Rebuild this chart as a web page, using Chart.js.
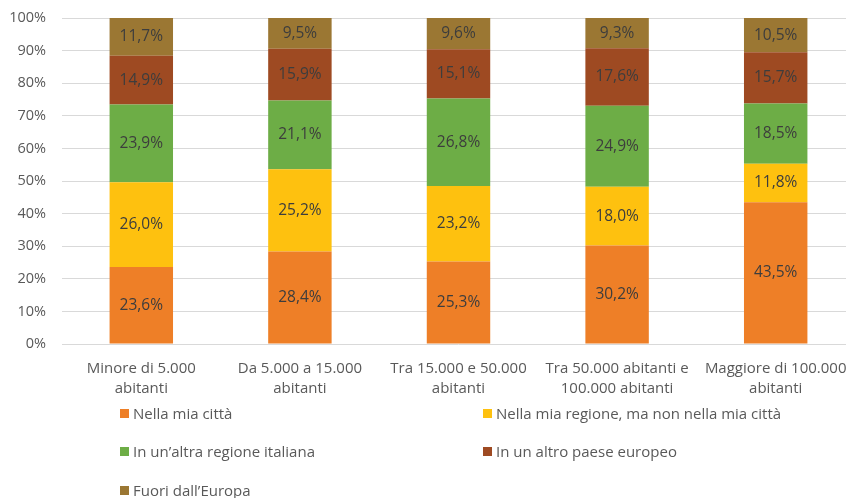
<!DOCTYPE html>
<html>
<head>
<meta charset="utf-8">
<script src="https://cdn.jsdelivr.net/npm/chart.js@4/dist/chart.umd.min.js"></script>
<style>
  html, body { margin: 0; padding: 0; background: #fff; overflow: hidden; width: 846px; height: 498px; }
  #wrap { position: absolute; left: 0; top: 0; width: 855px; height: 498px; }
  #legend { position: absolute; left: 0; top: 0; width: 846px; height: 498px; pointer-events: none;
            font-family: "Open Sans", sans-serif; font-size: 15px; color: #595959; }
  .li { position: absolute; display: flex; align-items: center; white-space: nowrap; }
  .sw { width: 9px; height: 9px; margin-right: 4px; }
</style>
</head>
<body>
<div id="wrap"><canvas id="c"></canvas></div>
<div id="legend"></div>
<script>
const categories = [
  ["Minore di 5.000", "abitanti"],
  ["Da 5.000 a 15.000", "abitanti"],
  ["Tra 15.000 e 50.000", "abitanti"],
  ["Tra 50.000 abitanti e", "100.000 abitanti"],
  ["Maggiore di 100.000", "abitanti"]
];
const seriesNames = [
  "Nella mia città",
  "Nella mia regione, ma non nella mia città",
  "In un\u2019altra regione italiana",
  "In un altro paese europeo",
  "Fuori dall\u2019Europa"
];
const nellaMiaCitta   = [23.6, 28.4, 25.3, 30.2, 43.5];
const nellaMiaRegione = [26.0, 25.2, 23.2, 18.0, 11.8];
const altraRegione    = [23.9, 21.1, 26.8, 24.9, 18.5];
const altroPaese      = [14.9, 15.9, 15.1, 17.6, 15.7];
const fuoriEuropa     = [11.7, 9.5, 9.6, 9.3, 10.5];
const yTicks = [0, 10, 20, 30, 40, 50, 60, 70, 80, 90, 100];

const colors = ["#EE7F27", "#FEC10F", "#6DAD46", "#9E4A22", "#9B7733"];
const seriesValues = [nellaMiaCitta, nellaMiaRegione, altraRegione, altroPaese, fuoriEuropa];

const FONT = '"Open Sans", sans-serif';

const labelPlugin = {
  id: 'segLabels',
  afterDatasetsDraw(chart) {
    const ctx = chart.ctx;
    ctx.save();
    ctx.font = '15.5px ' + FONT;
    ctx.fillStyle = '#3d3d3d';
    ctx.textAlign = 'center';
    ctx.textBaseline = 'middle';
    chart.data.datasets.forEach((ds, i) => {
      const meta = chart.getDatasetMeta(i);
      meta.data.forEach((bar, j) => {
        const v = ds.data[j];
        const y = (bar.y + bar.base) / 2;
        ctx.fillText(v.toFixed(1).replace('.', ',') + '%', bar.x, y);
      });
    });
    ctx.restore();
  }
};

const chart = new Chart(document.getElementById('c'), {
  type: 'bar',
  data: {
    labels: categories,
    datasets: seriesNames.map((n, i) => ({
      label: n,
      data: seriesValues[i],
      backgroundColor: colors[i],
      borderWidth: 0,
      categoryPercentage: 1,
      barPercentage: 0.4
    }))
  },
  options: {
    responsive: true,
    maintainAspectRatio: false,
    animation: false,
    layout: { padding: { top: 18, right: 0, bottom: 0, left: 0 } },
    plugins: { legend: { display: false }, tooltip: { enabled: false } },
    scales: {
      x: {
        stacked: true,
        grid: { display: false },
        border: { display: false },
        ticks: { color: '#595959', font: { family: FONT, size: 15, lineHeight: 1.33 }, padding: 7, maxRotation: 0, autoSkip: false },
        afterFit(s) { s.height = 154; s.paddingLeft = 0; s.paddingRight = 0; }
      },
      y: {
        stacked: true,
        min: 0, max: 100,
        afterBuildTicks(s) { s.ticks = yTicks.map(v => ({ value: v })); },
        grid: { color: '#d9d9d9', lineWidth: 1, drawTicks: false },
        border: { display: false },
        ticks: { color: '#595959', font: { family: FONT, size: 14.5 }, padding: 16, callback: v => v + '%' },
        afterFit(s) { s.width = 62; s.paddingTop = 0; s.paddingBottom = 0; }
      }
    }
  },
  plugins: [labelPlugin]
});

// HTML legend built from the chart's datasets (2 columns)
const legend = document.getElementById('legend');
const pos = [[120, 413], [483, 413], [120, 451], [483, 451], [120, 490]];
chart.data.datasets.forEach((ds, i) => {
  const d = document.createElement('div');
  d.className = 'li';
  d.style.left = pos[i][0] + 'px';
  d.style.top = (pos[i][1] - 10) + 'px';
  d.style.height = '20px';
  const sw = document.createElement('span');
  sw.className = 'sw';
  sw.style.background = ds.backgroundColor;
  const t = document.createElement('span');
  t.textContent = ds.label;
  d.appendChild(sw); d.appendChild(t);
  legend.appendChild(d);
});
</script>
</body>
</html>
